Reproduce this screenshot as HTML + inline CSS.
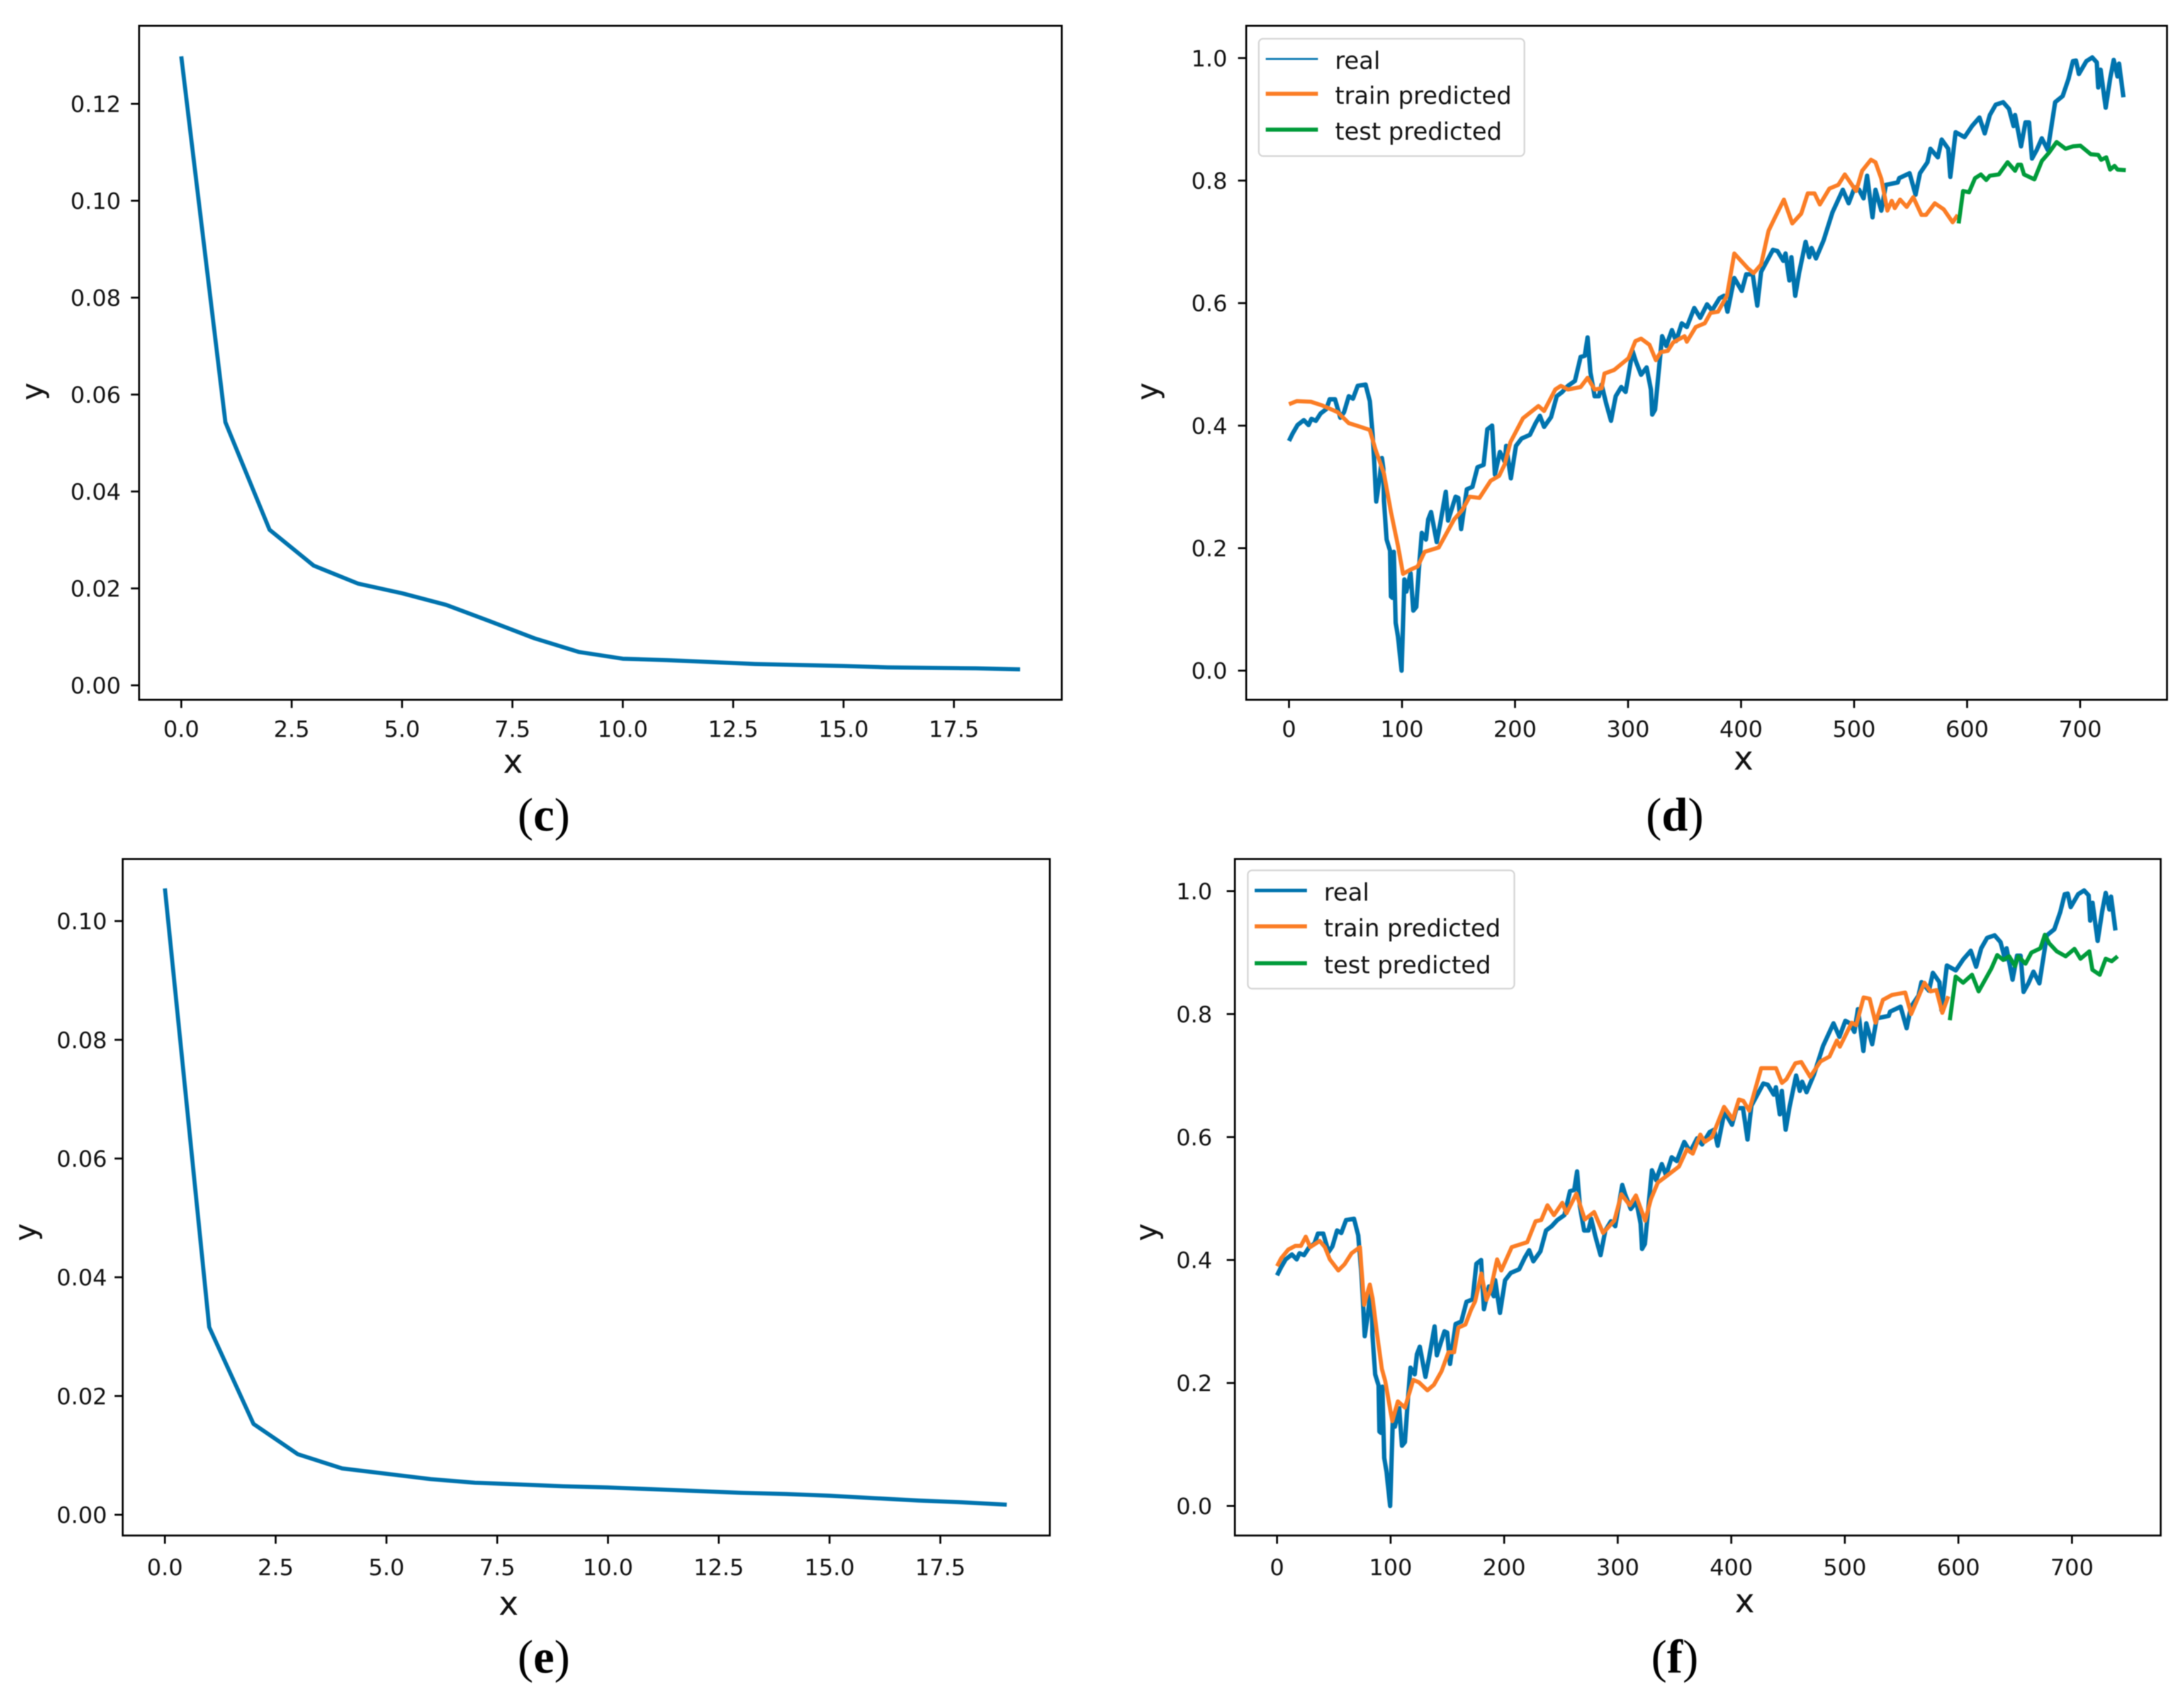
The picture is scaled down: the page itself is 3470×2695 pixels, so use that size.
<!DOCTYPE html>
<html>
<head>
<meta charset="utf-8">
<title>Training loss and prediction charts</title>
<style>
html,body{margin:0;padding:0;background:#fff}
svg{display:block;filter:blur(0.8px)}
text{font-family:"DejaVu Sans","Liberation Sans",sans-serif;fill:#111}
.cap{font-family:"Liberation Serif",serif;font-size:75px;text-anchor:middle;fill:#000}
.ax{font-size:53px;text-anchor:middle}
.ay{font-size:48px;text-anchor:middle}
.lg{font-size:38px}
.tick{font-size:36px}
</style>
</head>
<body>
<svg id="figure" xmlns="http://www.w3.org/2000/svg" width="3470" height="2695" viewBox="0 0 3470 2695">
<rect width="3470" height="2695" fill="#fff"/>

<g id="panel-c">
<rect x="221" y="41" width="1466" height="1071" fill="none" stroke="#000" stroke-width="3"/>
<text class="ax" x="815" y="1228">x</text>
<text class="ay" transform="translate(68 622) rotate(-90)">y</text>
<text class="cap" x="864" y="1320">(<tspan font-weight="bold">c</tspan>)</text>
</g>

<g id="panel-d">
<rect x="1980" y="41" width="1463" height="1071" fill="none" stroke="#000" stroke-width="3"/>
<text class="ax" x="2770" y="1223">x</text>
<text class="ay" transform="translate(1840 622) rotate(-90)">y</text>
<text class="cap" x="2661" y="1320">(<tspan font-weight="bold">d</tspan>)</text>
</g>

<g id="panel-e">
<rect x="195" y="1365" width="1473" height="1075" fill="none" stroke="#000" stroke-width="3"/>
<text class="ax" x="808" y="2566">x</text>
<text class="ay" transform="translate(57 1958) rotate(-90)">y</text>
<text class="cap" x="864" y="2658">(<tspan font-weight="bold">e</tspan>)</text>
</g>

<g id="panel-f">
<rect x="1962" y="1365" width="1471" height="1075" fill="none" stroke="#000" stroke-width="3"/>
<text class="ax" x="2772" y="2562">x</text>
<text class="ay" transform="translate(1838 1958) rotate(-90)">y</text>
<text class="cap" x="2661" y="2658">(<tspan font-weight="bold">f</tspan>)</text>
</g>
</svg>

<script>
var lossEpochs = [0,1,2,3,4,5,6,7,8,9,10,11,12,13,14,15,16,17,18,19];
var lossC = [.1298,.0543,.0321,.0247,.021,.019,.0166,.0132,.0097,.0069,.0055,.0052,.0048,.0044,.0042,.004,.0037,.0036,.0035,.0033];
var lossE = [.1055,.0316,.0153,.0102,.0078,.0069,.006,.0054,.0051,.0048,.0046,.0043,.004,.0037,.0035,.0032,.0028,.0024,.0021,.0017];

var xTicksLoss = [0,2.5,5,7.5,10,12.5,15,17.5];
var xTickLabelsLoss = ["0.0","2.5","5.0","7.5","10.0","12.5","15.0","17.5"];
var yTicksC = [0,.02,.04,.06,.08,.10,.12];
var yTickLabelsC = ["0.00","0.02","0.04","0.06","0.08","0.10","0.12"];
var yTicksE = [0,.02,.04,.06,.08,.10];
var yTickLabelsE = ["0.00","0.02","0.04","0.06","0.08","0.10"];
var xTicksPred = [0,100,200,300,400,500,600,700];
var xTickLabelsPred = ["0","100","200","300","400","500","600","700"];
var yTicksPred = [0,.2,.4,.6,.8,1];
var yTickLabelsPred = ["0.0","0.2","0.4","0.6","0.8","1.0"];

var realX = [0,3.2,7.6,13.1,17.3,19.8,23.8,28,33,36,40.7,45.4,48.7,52.9,56.6,60.8,67.8,71.5,74,75.3,77.2,80.2,82.2,83.5,84,86.4,89.4,90.2,91.4,92.7,94.4,96.4,99.6,102.1,103.8,107.6,110,112.6,115,117.5,121.2,123.2,125.7,130.7,133.7,138.7,140.7,147.4,149.8,152.3,157.3,162.3,166.8,172.2,175.5,179.7,182.2,186.6,190.9,192.1,196.3,200.8,205.8,213.2,218.2,222,225.7,231.9,236.9,241.8,246.8,253,258,261.7,264.2,266.7,270.4,274.2,276.6,280.4,284.9,289.1,294,297.8,304,306.5,311.5,316.4,320.2,321.4,323.9,330.1,333.8,338.8,342.5,347.5,352,358.6,363.8,369.9,374.3,380.9,384.9,388,394,400.6,404.6,410.3,414.3,417.7,428.2,432.2,437.4,439.3,442.7,444.5,447.9,451.3,457.1,460.3,462.4,466.3,472.9,480.8,490,495.2,500.5,504.4,508.4,511.5,516.3,518.9,524.1,528.1,538.6,539.9,549.1,554.4,558.3,564.9,567.5,574.1,577.5,583.3,585.1,589.8,597.7,604.3,610.9,615.6,620.1,625.3,631.9,637.1,641.1,642.4,647.7,651.6,654.8,657.4,661.6,666.1,671.3,677.9,684.5,689.7,693.6,696.3,698.9,705.5,710.7,714.7,716,718.1,722.6,726.5,729.7,733,734.4,738.3];
var realY = [.375,.387,.401,.409,.401,.411,.408,.42,.427,.443,.443,.413,.422,.448,.444,.465,.467,.44,.385,.345,.276,.314,.347,.33,.278,.214,.196,.121,.119,.194,.078,.056,0,.149,.129,.159,.098,.104,.168,.225,.214,.247,.259,.21,.239,.292,.245,.284,.282,.231,.296,.3,.332,.336,.394,.4,.32,.357,.341,.367,.314,.367,.379,.385,.404,.416,.398,.414,.448,.455,.465,.473,.512,.514,.544,.487,.448,.448,.467,.438,.408,.448,.463,.455,.522,.507,.483,.495,.459,.418,.426,.546,.53,.556,.538,.567,.561,.592,.576,.598,.588,.608,.612,.586,.641,.62,.647,.647,.596,.651,.687,.685,.669,.681,.637,.675,.612,.649,.7,.675,.69,.673,.702,.748,.785,.763,.789,.785,.771,.808,.74,.785,.751,.793,.797,.804,.812,.777,.812,.83,.852,.838,.867,.852,.806,.879,.871,.889,.903,.877,.907,.924,.928,.917,.889,.907,.856,.895,.895,.836,.85,.869,.85,.928,.938,.966,.995,.996,.974,.995,1.001,.993,.952,.981,.919,.966,.997,.97,.991,.936];

var trainDX = [0,6.9,19.3,29.3,43,52.9,61.6,71.5,76.5,84,90.2,96.4,100.9,107.6,113.8,120,132.4,146.1,153.6,159.8,168.5,178.4,185.9,190.9,195.9,207,220.7,225.7,235.6,240.6,246.8,258,264.2,270.4,276.6,279.1,287.8,300.3,306.5,311.5,318.9,324.6,328.9,335.1,340,350,352,359.9,367.8,373,379.6,387.5,394,405.9,411.1,417.7,424.3,429.5,437.9,445.3,453.2,459,465,469.7,478.2,486,491.8,501.8,507.1,514.9,518.9,524.1,529.4,533.3,536,540.7,546.5,552.3,559.6,563.6,571.4,579.3,587.2,591.7];
var trainDY = [.435,.44,.439,.433,.422,.404,.399,.393,.361,.322,.259,.204,.158,.165,.17,.194,.201,.247,.263,.284,.282,.31,.318,.337,.373,.412,.432,.424,.459,.465,.459,.463,.478,.459,.461,.485,.491,.51,.538,.542,.532,.507,.52,.522,.536,.546,.537,.561,.567,.584,.586,.612,.681,.657,.649,.663,.718,.738,.769,.73,.746,.779,.779,.761,.787,.793,.81,.783,.816,.834,.83,.803,.751,.767,.755,.769,.757,.773,.744,.744,.763,.753,.732,.744];
var testDX = [592.5,596.4,601.7,607,612.2,616.9,620.1,628,635.8,642.4,645,647.7,650.3,659.5,666.1,672.6,679.2,687.1,693.7,700.2,709.4,716,718.6,723.1,726.5,730.4,733.1,740.4];
var testDY = [.73,.783,.781,.804,.81,.801,.808,.81,.83,.816,.826,.826,.81,.802,.832,.846,.863,.852,.856,.857,.843,.842,.834,.838,.818,.824,.818,.817];

var trainFX = [0,3.7,9.9,16.1,21,25.3,29.2,37.6,42.1,46.5,54,59.4,65.6,73,76.7,79.2,81.7,84.2,87.9,92.3,95.3,101.5,106.4,112.6,120,125,132.4,138.1,144.8,151,155.9,159.6,165.8,170.8,174.5,179.9,184.4,188.1,193.8,197.5,206.7,220.3,227.7,232.6,238.1,243.8,251.2,254.9,263.6,271,279.2,287.1,297,303.2,310.6,316,324.2,329.2,335.3,344,353.9,360.9,366.1,372.7,376.6,383.1,393.6,401.4,406.7,410.6,415.8,426.3,439.4,444.6,448.5,456.4,461.6,469.5,478.6,486.5,493,495.6,506.1,510,516.5,521.8,527,533.5,541.4,553.2,558.4,570.1,575.4,580.6,585.8,591.1];
var trainFY = [.39,.403,.417,.423,.423,.438,.421,.431,.421,.401,.383,.393,.411,.421,.327,.344,.36,.337,.282,.223,.203,.138,.17,.16,.205,.201,.188,.197,.219,.25,.25,.29,.295,.319,.333,.378,.335,.352,.401,.383,.421,.429,.463,.465,.489,.473,.493,.476,.508,.466,.478,.444,.464,.507,.489,.505,.464,.499,.526,.538,.552,.58,.573,.604,.592,.6,.649,.629,.661,.659,.643,.712,.712,.688,.694,.72,.722,.698,.723,.731,.757,.747,.786,.782,.827,.825,.786,.823,.831,.835,.8,.851,.837,.839,.802,.829];
var testFX = [592.4,597.6,604.2,612,617.8,629,634.2,639.5,644.7,649.9,652.6,659.1,664.3,672.2,676.1,680,686.6,694.4,702.2,707.5,715.3,718,724.5,729.7,735,740.2];
var testFY = [.79,.861,.851,.864,.837,.874,.896,.888,.894,.878,.894,.882,.9,.907,.929,.915,.902,.894,.906,.89,.902,.872,.864,.89,.886,.894];

var NS = 'http://www.w3.org/2000/svg';
var BLUE = '#0073ae', ORANGE = '#fb7d25', GREEN = '#009b3a';

function mk(tag, attrs, parent) {
  var el = document.createElementNS(NS, tag);
  for (var k in attrs) el.setAttribute(k, attrs[k]);
  parent.appendChild(el);
  return el;
}
function linearAxis(v0, p0, v1, p1) {
  return function (v) { return p0 + (v - v0) * (p1 - p0) / (v1 - v0); };
}
function drawSeries(parent, sx, sy, xs, ys, color, width, name) {
  var d = '';
  for (var i = 0; i < xs.length; i++) {
    d += (i ? 'L' : 'M') + sx(xs[i]).toFixed(1) + ' ' + sy(ys[i]).toFixed(1);
  }
  var el = mk('path', { d: d, fill: 'none', stroke: color, 'stroke-width': width, 'stroke-linejoin': 'round', 'stroke-linecap': 'butt' }, parent);
  
  
}
function drawAxes(parent, sx, sy, xt, xl, yt, yl, bottom, left, xLabelY, yLabelX) {
  var i, t, lab;
  for (i = 0; i < xt.length; i++) {
    t = mk('line', { x1: sx(xt[i]), x2: sx(xt[i]), y1: bottom, y2: bottom + 13, stroke: '#000', 'stroke-width': 3 }, parent);
    
    
    lab = mk('text', { x: sx(xt[i]), y: xLabelY, 'text-anchor': 'middle', 'class': 'tick' }, parent);
    
    
    lab.textContent = xl[i];
  }
  for (i = 0; i < yt.length; i++) {
    t = mk('line', { x1: left - 13, x2: left, y1: sy(yt[i]), y2: sy(yt[i]), stroke: '#000', 'stroke-width': 3 }, parent);
    
    
    lab = mk('text', { x: yLabelX, y: sy(yt[i]) + 13, 'text-anchor': 'end', 'class': 'tick' }, parent);
    
    
    lab.textContent = yl[i];
  }
}
function drawLegend(parent, x, y, w, h, realWidth, rows) {
  var g = mk('g', {}, parent);
  
  
  var box = mk('rect', { x: x, y: y, width: w, height: h, rx: 7, fill: '#fff', stroke: '#d4d4d4', 'stroke-width': 2.5 }, g);
  
  
  var names = ['real', 'train predicted', 'test predicted'];
  var cols = [BLUE, ORANGE, GREEN];
  var widths = [realWidth, 6.5, 6.5];
  for (var i = 0; i < 3; i++) {
    var ln = mk('line', { x1: x + 11, x2: x + 94, y1: rows[i] - 3, y2: rows[i] - 3, stroke: cols[i], 'stroke-width': widths[i] }, g);
    
    
    var tx = mk('text', { x: x + 121, y: rows[i] + 13, 'class': 'lg' }, g);
    
    
    tx.textContent = names[i];
  }
}

/* panel c */
var pc = document.getElementById('panel-c');
var cx = linearAxis(0, 288, 17.5, 1515.6), cy = linearAxis(0, 1089, 0.12, 165);
drawAxes(pc, cx, cy, xTicksLoss, xTickLabelsLoss, yTicksC, yTickLabelsC, 1112, 221, 1171, 192);
drawSeries(pc, cx, cy, lossEpochs, lossC, BLUE, 6.5, 'loss-line');

/* panel e */
var pe = document.getElementById('panel-e');
var ex = linearAxis(0, 262, 17.5, 1494), ey = linearAxis(0, 2407, 0.10, 1463.6);
drawAxes(pe, ex, ey, xTicksLoss, xTickLabelsLoss, yTicksE, yTickLabelsE, 2440, 195, 2503, 170);
drawSeries(pe, ex, ey, lossEpochs, lossE, BLUE, 6.5, 'loss-line');

/* panel d */
var pd = document.getElementById('panel-d');
var dx = linearAxis(0, 2048, 700, 3305), dy = linearAxis(0, 1065.7, 1, 92.3);
drawAxes(pd, dx, dy, xTicksPred, xTickLabelsPred, yTicksPred, yTickLabelsPred, 1112, 1980, 1171, 1950);
drawSeries(pd, dx, dy, realX, realY, BLUE, 7, 'real-line');
drawSeries(pd, dx, dy, trainDX, trainDY, ORANGE, 6.5, 'train-predicted-line');
drawSeries(pd, dx, dy, testDX, testDY, GREEN, 6.5, 'test-predicted-line');
drawLegend(pd, 2000, 61.5, 422, 186.5, 3, [96.6, 152, 209]);

/* panel f */
var pf = document.getElementById('panel-f');
var fx = linearAxis(0, 2029, 700, 3292), fy = linearAxis(0, 2393, 1, 1416);
drawAxes(pf, fx, fy, xTicksPred, xTickLabelsPred, yTicksPred, yTickLabelsPred, 2440, 1962, 2503, 1926);
drawSeries(pf, fx, fy, realX, realY, BLUE, 7, 'real-line');
drawSeries(pf, fx, fy, trainFX, trainFY, ORANGE, 6.5, 'train-predicted-line');
drawSeries(pf, fx, fy, testFX, testFY, GREEN, 6.5, 'test-predicted-line');
drawLegend(pf, 1982.5, 1383, 423.5, 188, 5.5, [1418, 1475, 1533.6]);
</script>
</body>
</html>
